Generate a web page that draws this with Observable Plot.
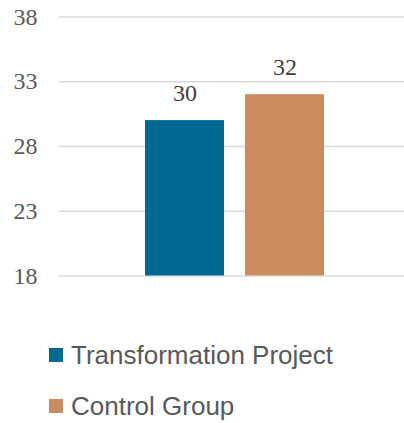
<!DOCTYPE html>
<html>
<head>
<meta charset="utf-8">
<script src="https://cdn.jsdelivr.net/npm/d3@7"></script>
<script src="https://cdn.jsdelivr.net/npm/@observablehq/plot@0.6"></script>
<style>
  html, body { margin: 0; padding: 0; background: #fff; }
  #wrap { position: relative; width: 404px; height: 423px; overflow: hidden; }
  #chart { position: absolute; left: 0; top: 0; }
  #legend { position: absolute; left: 49px; top: 342px; font-family: "Liberation Sans", Arial, sans-serif; font-size: 26px; color: #595959; }
  .row { display: flex; align-items: center; height: 26px; line-height: 26px; margin-bottom: 25px; white-space: nowrap; }
  .sw { width: 14px; height: 14px; margin-right: 8px; flex: none; }
</style>
</head>
<body>
<div id="wrap">
  <div id="chart"></div>
  <div id="legend"></div>
</div>
<script>
const categories = ["Transformation Project", "Control Group"];
const values = [30, 32];
const colors = ["#006892", "#CB8B5F"];
const yTicks = [18, 23, 28, 33, 38];

const data = categories.map((c, i) => ({category: c, value: values[i]}));

const chart = Plot.plot({
  width: 404,
  height: 300,
  marginLeft: 59,
  marginRight: 0,
  marginTop: 16.5,
  marginBottom: 24.5,
  style: {background: "white", overflow: "visible"},
  x: {domain: categories, range: [145, 324], paddingInner: 0.21, paddingOuter: 0, axis: null},
  y: {domain: [18, 38], axis: null},
  color: {domain: categories, range: colors},
  marks: [
    Plot.ruleY(yTicks, {stroke: "#d9d9d9", strokeWidth: 1.5}),
    Plot.barY(data, {x: "category", y1: 18, y2: "value", fill: "category"}),
    Plot.text(data, {x: "category", y: "value", text: d => String(d.value), lineAnchor: "bottom", dy: -20,
      fill: "#404040", fontSize: 24, fontFamily: "Liberation Serif, serif"}),
    Plot.axisY(yTicks, {tickSize: 0, tickPadding: 22, fontSize: 24, fontFamily: "Liberation Serif, serif", color: "#595959", label: null})
  ]
});
document.getElementById("chart").appendChild(chart);

const legend = document.getElementById("legend");
categories.forEach((c, i) => {
  const row = document.createElement("div");
  row.className = "row";
  const sw = document.createElement("span");
  sw.className = "sw";
  sw.style.background = colors[i];
  const t = document.createElement("span");
  t.textContent = c;
  row.appendChild(sw);
  row.appendChild(t);
  legend.appendChild(row);
});
</script>
</body>
</html>
